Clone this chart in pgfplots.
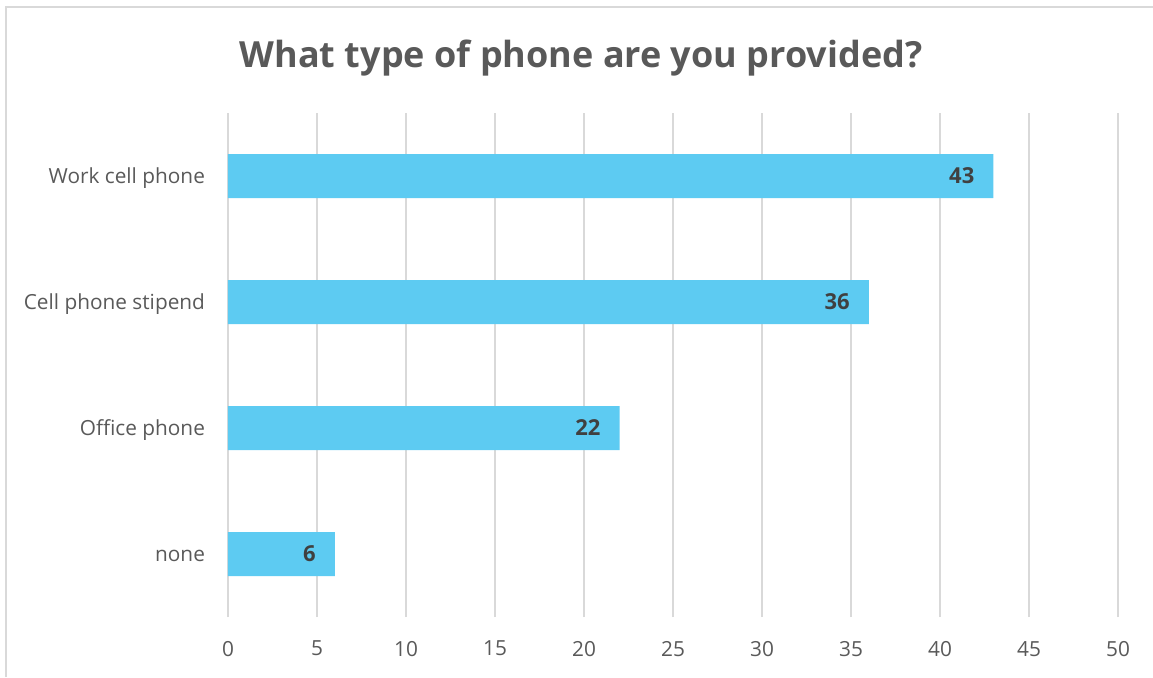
\documentclass[border=0pt]{standalone}
\usepackage{fontspec}
\setmainfont{Open Sans}
\usepackage{pgfplots}
\pgfplotsset{compat=1.18}
\definecolor{barblue}{HTML}{5DCBF2}
\definecolor{gridgray}{HTML}{D9D9D9}
\definecolor{txtgray}{HTML}{595959}
\definecolor{lblgray}{HTML}{404040}
\begin{document}
\begin{tikzpicture}
\path[use as bounding box] (-114pt,-30pt) rectangle (462.5pt,308.5pt);
\draw[gridgray, line width=1pt] (-111pt,-30pt) -- (-111pt,305pt) -- (462.5pt,305pt);
\begin{axis}[
  at={(0,0)}, anchor=south west,
  scale only axis,
  width=445pt, height=252pt,
  xmin=0, xmax=50,
  ymin=-0.5, ymax=3.5,
  xtick={0,5,...,50},
  ytick={0,1,2,3},
  yticklabels={none,Office phone,Cell phone stipend,Work cell phone},
  axis line style={draw=none},
  major tick length=0pt,
  xmajorgrids,
  grid style={gridgray, line width=0.8pt},
  tick label style={font=\fontsize{10.4}{12.5}\selectfont, text=txtgray},
  /pgf/number format/assume math mode=true,
  xticklabel style={yshift=-8.5pt},
  yticklabel style={xshift=-8pt, yshift=-0.8pt},
  xbar,
  bar width=22pt,
  nodes near coords,
  nodes near coords style={anchor=east, xshift=-6pt, font=\bfseries\fontsize{11}{13}\selectfont, text=lblgray},
  clip=false,
]
\addplot[fill=barblue, draw=none] coordinates {(6,0) (22,1) (36,2) (43,3)};
\end{axis}
\node[anchor=base, font=\bfseries\fontsize{18}{22}\selectfont, text=txtgray] at (176.5pt,275pt) {What type of phone are you provided?};
\end{tikzpicture}
\end{document}
